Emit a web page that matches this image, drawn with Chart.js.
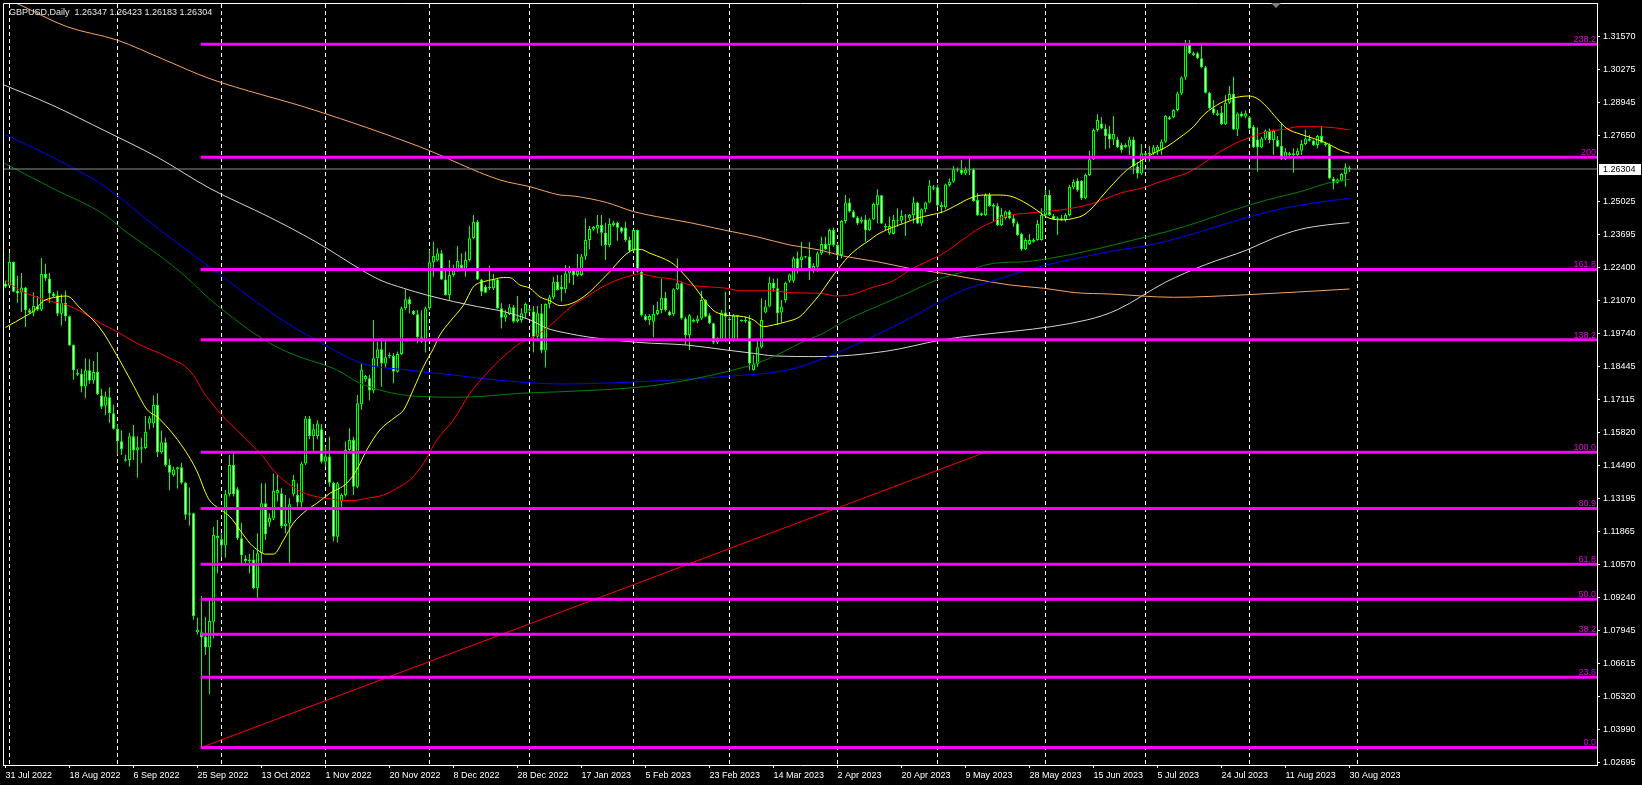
<!DOCTYPE html>
<html>
<head>
<meta charset="utf-8">
<title>GBPUSD,Daily</title>
<script src="https://cdn.jsdelivr.net/npm/chart.js@4.4.1/dist/chart.umd.min.js"></script>
<style>
  html, body { margin: 0; padding: 0; background: #000; overflow: hidden; }
  canvas { display: block; }
</style>
</head>
<body>
<canvas id="chart" width="1642" height="785"></canvas>
<script>
// daily bars, one per trading day (incl. the broker's sunday bars), 31 Jul 2022 .. 30 Aug 2023
const opens = [
  1.2175, 1.2166, 1.2260, 1.2146, 1.2139, 1.2159, 1.2068, 1.2058, 1.2084, 1.2070,
  1.2213, 1.2195, 1.2135, 1.2128, 1.2054, 1.2097, 1.2045, 1.1930, 1.1813, 1.1816,
  1.1765, 1.1830, 1.1789, 1.1823, 1.1729, 1.1688, 1.1722, 1.1659, 1.1597, 1.1547,
  1.1470, 1.1473, 1.1567, 1.1511, 1.1517, 1.1520, 1.1618, 1.1618, 1.1691, 1.1503,
  1.1543, 1.1453, 1.1413, 1.1435, 1.1444, 1.1382, 1.1255, 1.1261, 1.0787, 1.0787,
  1.0770, 1.0727, 1.0829, 1.1161, 1.1157, 1.1132, 1.1336, 1.1453, 1.1356, 1.1161,
  1.1081, 1.1071, 1.1077, 1.0962, 1.1101, 1.1300, 1.1224, 1.1240, 1.1340, 1.1340,
  1.1210, 1.1220, 1.1336, 1.1333, 1.1303, 1.1459, 1.1638, 1.1568, 1.1568, 1.1595,
  1.1466, 1.1486, 1.1382, 1.1167, 1.1307, 1.1333, 1.1512, 1.1552, 1.1366, 1.1694,
  1.1794, 1.1798, 1.1749, 1.1877, 1.1913, 1.1857, 1.1884, 1.1886, 1.1824, 1.1894,
  1.2076, 1.2112, 1.2065, 1.2052, 1.1961, 1.1943, 1.2076, 1.2259, 1.2266, 1.2295,
  1.2191, 1.2129, 1.2209, 1.2231, 1.2249, 1.2233, 1.2268, 1.2355, 1.2421, 1.2191,
  1.2162, 1.2156, 1.2156, 1.2191, 1.2076, 1.2039, 1.2052, 1.2080, 1.2026, 1.2030,
  1.2056, 1.2067, 1.2063, 1.1963, 1.2056, 1.1908, 1.2093, 1.2120, 1.2182, 1.2162,
  1.2152, 1.2215, 1.2226, 1.2209, 1.2209, 1.2282, 1.2348, 1.2390, 1.2394, 1.2408,
  1.2377, 1.2328, 1.2408, 1.2417, 1.2398, 1.2398, 1.2348, 1.2305, 1.2388, 1.2222,
  1.2046, 1.2030, 1.2023, 1.2053, 1.2069, 1.2118, 1.2063, 1.2052, 1.2152, 1.2176,
  1.2036, 1.1970, 1.2030, 1.2026, 1.2036, 1.2109, 1.2049, 1.2017, 1.1940, 1.1950,
  1.2059, 1.2032, 1.1950, 1.2049, 1.2030, 1.2026, 1.2026, 1.1830, 1.1855, 1.1921,
  1.2059, 1.2083, 1.2178, 1.2156, 1.2059, 1.2109, 1.2186, 1.2186, 1.2275, 1.2268,
  1.2279, 1.2282, 1.2228, 1.2242, 1.2295, 1.2332, 1.2328, 1.2388, 1.2328, 1.2288,
  1.2424, 1.2497, 1.2461, 1.2437, 1.2421, 1.2430, 1.2388, 1.2430, 1.2487, 1.2526,
  1.2404, 1.2375, 1.2372, 1.2425, 1.2425, 1.2441, 1.2434, 1.2447, 1.2497, 1.2414,
  1.2470, 1.2497, 1.2558, 1.2558, 1.2478, 1.2478, 1.2567, 1.2580, 1.2629, 1.2627,
  1.2613, 1.2624, 1.2629, 1.2507, 1.2447, 1.2447, 1.2527, 1.2487, 1.2483, 1.2408,
  1.2434, 1.2461, 1.2434, 1.2414, 1.2372, 1.2311, 1.2332, 1.2348, 1.2348, 1.2348,
  1.2447, 1.2527, 1.2443, 1.2434, 1.2428, 1.2428, 1.2447, 1.2558, 1.2584, 1.2584,
  1.2514, 1.2607, 1.2669, 1.2786, 1.2812, 1.2792, 1.2772, 1.2748, 1.2748, 1.2726,
  1.2717, 1.2719, 1.2748, 1.2640, 1.2613, 1.2693, 1.2690, 1.2693, 1.2703, 1.2706,
  1.2739, 1.2828, 1.2836, 1.2865, 1.2931, 1.2995, 1.3130, 1.3091, 1.3091, 1.3071,
  1.3035, 1.2934, 1.2872, 1.2852, 1.2855, 1.2809, 1.2894, 1.2929, 1.2788, 1.2851,
  1.2839, 1.2836, 1.2799, 1.2748, 1.2717, 1.2752, 1.2783, 1.2746, 1.2746, 1.2722,
  1.2669, 1.2693, 1.2686, 1.2686, 1.2703, 1.2730, 1.2752, 1.2743, 1.2726, 1.2762,
  1.2733, 1.2726, 1.2593, 1.2576, 1.2584, 1.2611, 1.26347
];
const highs = [
  1.2186, 1.2296, 1.2262, 1.2206, 1.2217, 1.2161, 1.2076, 1.2139, 1.2125, 1.2276,
  1.2253, 1.2217, 1.2141, 1.2146, 1.2132, 1.2146, 1.2047, 1.1932, 1.1834, 1.1836,
  1.1877, 1.1873, 1.1866, 1.1901, 1.1756, 1.1745, 1.1762, 1.1692, 1.1614, 1.1591,
  1.1493, 1.1581, 1.1612, 1.1567, 1.1561, 1.1648, 1.1648, 1.1729, 1.1738, 1.1590,
  1.1561, 1.1477, 1.1446, 1.1446, 1.1462, 1.1386, 1.1363, 1.1263, 1.0845, 1.0931,
  1.0849, 1.0915, 1.1207, 1.1234, 1.1181, 1.1353, 1.1492, 1.1499, 1.1364, 1.1223,
  1.1094, 1.1098, 1.1114, 1.1181, 1.1380, 1.1380, 1.1260, 1.1419, 1.1413, 1.1360,
  1.1333, 1.1320, 1.1413, 1.1380, 1.1466, 1.1648, 1.1648, 1.1616, 1.1631, 1.1616,
  1.1526, 1.1565, 1.1386, 1.1386, 1.1340, 1.1546, 1.1599, 1.1565, 1.1731, 1.1855,
  1.1811, 1.1811, 1.2030, 1.1943, 1.1957, 1.1948, 1.1900, 1.1897, 1.1904, 1.2083,
  1.2152, 1.2122, 1.2069, 1.2069, 1.2067, 1.2083, 1.2308, 1.2341, 1.2315, 1.2308,
  1.2236, 1.2268, 1.2249, 1.2324, 1.2295, 1.2302, 1.2404, 1.2447, 1.2428, 1.2193,
  1.2169, 1.2245, 1.2213, 1.2193, 1.2096, 1.2069, 1.2093, 1.2089, 1.2125, 1.2076,
  1.2099, 1.2076, 1.2085, 1.2085, 1.2093, 1.2096, 1.2129, 1.2202, 1.2209, 1.2209,
  1.2248, 1.2244, 1.2235, 1.2292, 1.2292, 1.2434, 1.2404, 1.2404, 1.2447, 1.2447,
  1.2417, 1.2434, 1.2425, 1.2421, 1.2401, 1.2421, 1.2361, 1.2390, 1.2390, 1.2229,
  1.2053, 1.2053, 1.2089, 1.2103, 1.2195, 1.2142, 1.2067, 1.2156, 1.2274, 1.2182,
  1.2043, 1.2053, 1.2036, 1.2049, 1.2146, 1.2112, 1.2056, 1.2019, 1.1961, 1.2069,
  1.2142, 1.2043, 1.2053, 1.2051, 1.2032, 1.2043, 1.2049, 1.1890, 1.1950, 1.2116,
  1.2109, 1.2202, 1.2195, 1.2195, 1.2109, 1.2182, 1.2215, 1.2282, 1.2302, 1.2341,
  1.2284, 1.2341, 1.2255, 1.2302, 1.2361, 1.2361, 1.2394, 1.2398, 1.2335, 1.2428,
  1.2527, 1.2514, 1.2467, 1.2443, 1.2441, 1.2447, 1.2434, 1.2497, 1.2550, 1.2527,
  1.2414, 1.2441, 1.2447, 1.2474, 1.2467, 1.2451, 1.2451, 1.2520, 1.2500, 1.2474,
  1.2500, 1.2587, 1.2567, 1.2569, 1.2500, 1.2573, 1.2594, 1.2642, 1.2636, 1.2666,
  1.2637, 1.2682, 1.2633, 1.2534, 1.2457, 1.2534, 1.2536, 1.2494, 1.2494, 1.2474,
  1.2465, 1.2467, 1.2447, 1.2421, 1.2377, 1.2355, 1.2372, 1.2355, 1.2428, 1.2474,
  1.2547, 1.2547, 1.2451, 1.2441, 1.2447, 1.2454, 1.2567, 1.2589, 1.2594, 1.2587,
  1.2613, 1.2703, 1.2792, 1.2849, 1.2836, 1.2809, 1.2802, 1.2841, 1.2759, 1.2735,
  1.2733, 1.2759, 1.2759, 1.2656, 1.2730, 1.2695, 1.2722, 1.2726, 1.2726, 1.2748,
  1.2845, 1.2841, 1.2868, 1.2938, 1.3000, 1.3144, 1.3144, 1.3097, 1.3097, 1.3128,
  1.3040, 1.2938, 1.2905, 1.2865, 1.2881, 1.2925, 1.2961, 1.2998, 1.2855, 1.2859,
  1.2863, 1.2841, 1.2806, 1.2796, 1.2759, 1.2788, 1.2792, 1.2788, 1.2762, 1.2815,
  1.2713, 1.2699, 1.2713, 1.2713, 1.2746, 1.2788, 1.2766, 1.2748, 1.2766, 1.2802,
  1.2739, 1.2733, 1.2600, 1.2593, 1.2616, 1.2653, 1.26423
];
const lows = [
  1.2156, 1.2164, 1.2140, 1.2098, 1.2061, 1.2002, 1.2054, 1.2045, 1.2065, 1.2065,
  1.2186, 1.2098, 1.2121, 1.2045, 1.2007, 1.2025, 1.1926, 1.1792, 1.1807, 1.1742,
  1.1718, 1.1776, 1.1776, 1.1731, 1.1675, 1.1651, 1.1621, 1.1594, 1.1493, 1.1493,
  1.1466, 1.1446, 1.1473, 1.1402, 1.1460, 1.1516, 1.1594, 1.1601, 1.1484, 1.1497,
  1.1446, 1.1352, 1.1406, 1.1359, 1.1376, 1.1235, 1.1211, 1.0837, 1.0778, 1.0330,
  1.0697, 1.0540, 1.0763, 1.1022, 1.1088, 1.1084, 1.1327, 1.1327, 1.1154, 1.1057,
  1.1061, 1.1022, 1.0958, 1.0922, 1.1061, 1.1154, 1.1207, 1.1234, 1.1307, 1.1201,
  1.1181, 1.1061, 1.1327, 1.1287, 1.1274, 1.1453, 1.1555, 1.1499, 1.1555, 1.1459,
  1.1446, 1.1366, 1.1148, 1.1144, 1.1287, 1.1327, 1.1499, 1.1333, 1.1360, 1.1672,
  1.1784, 1.1709, 1.1738, 1.1844, 1.1764, 1.1841, 1.1877, 1.1778, 1.1820, 1.1890,
  1.2069, 1.2056, 1.2050, 1.1937, 1.1939, 1.1900, 1.2069, 1.2202, 1.2262, 1.2189,
  1.2127, 1.2107, 1.2202, 1.2222, 1.2229, 1.2202, 1.2262, 1.2351, 1.2189, 1.2125,
  1.2136, 1.2149, 1.2149, 1.2072, 1.1996, 1.2023, 1.2050, 1.2019, 1.2019, 1.2019,
  1.2036, 1.2063, 1.1900, 1.1953, 1.1897, 1.1841, 1.2076, 1.2112, 1.2147, 1.2103,
  1.2136, 1.2176, 1.2169, 1.2202, 1.2205, 1.2268, 1.2311, 1.2385, 1.2374, 1.2324,
  1.2268, 1.2319, 1.2401, 1.2345, 1.2374, 1.2341, 1.2298, 1.2302, 1.2218, 1.2043,
  1.2027, 1.2010, 1.1961, 1.2049, 1.2056, 1.2063, 1.2046, 1.2046, 1.2149, 1.2032,
  1.1930, 1.1910, 1.2020, 1.2017, 1.2030, 1.2040, 1.2013, 1.1934, 1.1934, 1.1943,
  1.1943, 1.1950, 1.1943, 1.1950, 1.2023, 1.2019, 1.1830, 1.1828, 1.1844, 1.1917,
  1.2056, 1.2080, 1.2142, 1.2010, 1.2019, 1.2098, 1.2178, 1.2178, 1.2215, 1.2229,
  1.2275, 1.2189, 1.2218, 1.2222, 1.2288, 1.2308, 1.2288, 1.2321, 1.2282, 1.2275,
  1.2414, 1.2457, 1.2434, 1.2408, 1.2414, 1.2341, 1.2385, 1.2428, 1.2414, 1.2412,
  1.2388, 1.2368, 1.2370, 1.2401, 1.2414, 1.2364, 1.2428, 1.2414, 1.2412, 1.2404,
  1.2457, 1.2494, 1.2547, 1.2480, 1.2454, 1.2470, 1.2560, 1.2576, 1.2620, 1.2607,
  1.2607, 1.2607, 1.2500, 1.2443, 1.2443, 1.2443, 1.2480, 1.2421, 1.2404, 1.2404,
  1.2430, 1.2430, 1.2401, 1.2364, 1.2305, 1.2308, 1.2328, 1.2337, 1.2345, 1.2345,
  1.2441, 1.2443, 1.2428, 1.2368, 1.2425, 1.2421, 1.2441, 1.2550, 1.2540, 1.2507,
  1.2510, 1.2603, 1.2666, 1.2779, 1.2788, 1.2709, 1.2713, 1.2726, 1.2713, 1.2695,
  1.2713, 1.2686, 1.2611, 1.2593, 1.2607, 1.2682, 1.2660, 1.2686, 1.2686, 1.2686,
  1.2735, 1.2825, 1.2832, 1.2859, 1.2925, 1.2985, 1.3088, 1.3080, 1.3067, 1.3031,
  1.2931, 1.2868, 1.2845, 1.2841, 1.2806, 1.2806, 1.2889, 1.2786, 1.2762, 1.2836,
  1.2832, 1.2788, 1.2713, 1.2620, 1.2713, 1.2746, 1.2733, 1.2686, 1.2717, 1.2666,
  1.2666, 1.2682, 1.2616, 1.2680, 1.2686, 1.2726, 1.2739, 1.2722, 1.2713, 1.2733,
  1.2719, 1.2589, 1.2550, 1.2573, 1.2580, 1.2560, 1.26183
];
const closes = [
  1.2162, 1.2260, 1.2142, 1.2135, 1.2159, 1.2069, 1.2058, 1.2085, 1.2070, 1.2213,
  1.2195, 1.2135, 1.2125, 1.2054, 1.2097, 1.2045, 1.1928, 1.1830, 1.1819, 1.1765,
  1.1830, 1.1789, 1.1823, 1.1735, 1.1684, 1.1725, 1.1659, 1.1597, 1.1547, 1.1516,
  1.1476, 1.1567, 1.1511, 1.1523, 1.1523, 1.1585, 1.1639, 1.1691, 1.1503, 1.1543,
  1.1453, 1.1422, 1.1435, 1.1444, 1.1382, 1.1255, 1.1261, 1.0852, 1.0797, 1.0767,
  1.0727, 1.0832, 1.1174, 1.1170, 1.1132, 1.1336, 1.1453, 1.1337, 1.1161, 1.1094,
  1.1071, 1.1077, 1.0962, 1.1101, 1.1300, 1.1177, 1.1243, 1.1350, 1.1353, 1.1210,
  1.1220, 1.1296, 1.1393, 1.1303, 1.1459, 1.1638, 1.1568, 1.1595, 1.1618, 1.1466,
  1.1486, 1.1382, 1.1167, 1.1380, 1.1333, 1.1512, 1.1552, 1.1366, 1.1698, 1.1833,
  1.1807, 1.1749, 1.1877, 1.1913, 1.1857, 1.1881, 1.1890, 1.1824, 1.1894, 1.2076,
  1.2112, 1.2092, 1.2052, 1.1961, 1.1943, 1.2076, 1.2259, 1.2284, 1.2295, 1.2191,
  1.2129, 1.2209, 1.2231, 1.2264, 1.2236, 1.2268, 1.2355, 1.2421, 1.2191, 1.2142,
  1.2138, 1.2162, 1.2191, 1.2076, 1.2039, 1.2052, 1.2080, 1.2023, 1.2036, 1.2056,
  1.2093, 1.2072, 1.1963, 1.2056, 1.1908, 1.2093, 1.2120, 1.2182, 1.2149, 1.2152,
  1.2215, 1.2235, 1.2209, 1.2226, 1.2282, 1.2348, 1.2392, 1.2401, 1.2408, 1.2377,
  1.2328, 1.2412, 1.2417, 1.2397, 1.2381, 1.2348, 1.2305, 1.2388, 1.2222, 1.2049,
  1.2030, 1.2046, 1.2053, 1.2069, 1.2118, 1.2069, 1.2049, 1.2152, 1.2176, 1.2036,
  1.1970, 1.2049, 1.2023, 1.2036, 1.2109, 1.2043, 1.2017, 1.1940, 1.1957, 1.2059,
  1.2043, 1.2030, 1.2049, 1.2043, 1.2026, 1.2030, 1.1857, 1.1855, 1.1921, 1.2030,
  1.2083, 1.2178, 1.2156, 1.2056, 1.2083, 1.2178, 1.2211, 1.2275, 1.2225, 1.2282,
  1.2282, 1.2226, 1.2244, 1.2295, 1.2332, 1.2311, 1.2388, 1.2328, 1.2288, 1.2424,
  1.2497, 1.2461, 1.2437, 1.2414, 1.2430, 1.2388, 1.2430, 1.2491, 1.2526, 1.2414,
  1.2398, 1.2404, 1.2428, 1.2428, 1.2443, 1.2443, 1.2447, 1.2497, 1.2414, 1.2470,
  1.2497, 1.2565, 1.2552, 1.2485, 1.2487, 1.2569, 1.2580, 1.2629, 1.2624, 1.2613,
  1.2627, 1.2629, 1.2503, 1.2447, 1.2454, 1.2527, 1.2483, 1.2480, 1.2408, 1.2447,
  1.2461, 1.2434, 1.2414, 1.2368, 1.2311, 1.2348, 1.2348, 1.2341, 1.2412, 1.2447,
  1.2527, 1.2447, 1.2430, 1.2430, 1.2434, 1.2447, 1.2560, 1.2580, 1.2547, 1.2514,
  1.2607, 1.2669, 1.2786, 1.2825, 1.2792, 1.2762, 1.2748, 1.2770, 1.2717, 1.2706,
  1.2726, 1.2748, 1.2640, 1.2613, 1.2693, 1.2686, 1.2695, 1.2717, 1.2719, 1.2739,
  1.2841, 1.2836, 1.2865, 1.2931, 1.2995, 1.3128, 1.3091, 1.3084, 1.3071, 1.3035,
  1.2934, 1.2872, 1.2852, 1.2845, 1.2809, 1.2894, 1.2929, 1.2788, 1.2851, 1.2839,
  1.2852, 1.2792, 1.2717, 1.2717, 1.2752, 1.2783, 1.2746, 1.2783, 1.2719, 1.2669,
  1.2699, 1.2686, 1.2693, 1.2703, 1.2730, 1.2752, 1.2743, 1.2726, 1.2762, 1.2735,
  1.2726, 1.2593, 1.2576, 1.2589, 1.2611, 1.2637, 1.26304
];

// moving averages as [bar, price]
const maYellow = [
  [0, 1.2000], [5, 1.2045], [7, 1.2065], [9.5, 1.2105], [12, 1.2119], [15.3, 1.2125], [18.6, 1.2078],
  [23.6, 1.1998], [27.8, 1.1890], [32, 1.1769], [35.3, 1.1675], [38.5, 1.1636], [44.5, 1.1520],
  [47.8, 1.1430], [50.7, 1.1320], [54, 1.1273], [56.1, 1.1247], [58.6, 1.1194], [61.1, 1.1141],
  [63.6, 1.1108], [65, 1.1098], [67, 1.1098], [69.5, 1.1154], [71.9, 1.1220], [75.3, 1.1273],
  [77.8, 1.1300], [81.1, 1.1340], [85.3, 1.1380], [87.8, 1.1433], [90.3, 1.1512], [93.6, 1.1592],
  [97.6, 1.1645], [99.5, 1.1671], [102.1, 1.1758], [104.5, 1.1844], [107, 1.1917], [108.6, 1.1970],
  [111.1, 1.2023], [114.5, 1.2089], [117, 1.2162], [119.5, 1.2182], [122, 1.2191], [124.5, 1.2199],
  [126.1, 1.2198], [128.6, 1.2169], [131.1, 1.2156], [133.6, 1.2122], [136.1, 1.2106], [138.6, 1.2087],
  [141.1, 1.2093], [143.6, 1.2112], [146.1, 1.2142], [148.6, 1.2182], [151.1, 1.2222], [153.6, 1.2268],
  [155.7, 1.2298], [157.5, 1.2311], [159, 1.2310], [161.1, 1.2295], [164.4, 1.2275], [166.9, 1.2253],
  [169.4, 1.2215], [171.9, 1.2169], [176.9, 1.2069], [179.5, 1.2050], [182, 1.2046], [184.5, 1.2043],
  [187, 1.2030], [189.5, 1.2003], [192, 1.2010], [195.3, 1.2023], [198.6, 1.2043], [201.1, 1.2085],
  [203.6, 1.2132], [206.1, 1.2189], [208.6, 1.2242], [211.1, 1.2288], [213.6, 1.2321], [216.1, 1.2348],
  [217.8, 1.2368], [221.1, 1.2394], [224.5, 1.2414], [227.8, 1.2434], [231.1, 1.2447], [234.5, 1.2461],
  [237.8, 1.2487], [241.1, 1.2514], [244.5, 1.2527], [247.8, 1.2527], [251.1, 1.2523], [254.5, 1.2500],
  [257.8, 1.2467], [259.5, 1.2447], [261.1, 1.2434], [264.5, 1.2428], [267, 1.2434], [269.5, 1.2447],
  [272, 1.2481], [273.6, 1.2512], [277, 1.2573], [280.3, 1.2626], [283.6, 1.2660], [287, 1.2693],
  [290.3, 1.2719], [293.6, 1.2756], [297, 1.2799], [299.5, 1.2845], [302, 1.2876], [305.3, 1.2905],
  [308.6, 1.2918], [310.7, 1.2921], [312.8, 1.2912], [315.3, 1.2878], [317.8, 1.2832], [320.3, 1.2792],
  [323.6, 1.2770], [327, 1.2752], [330.3, 1.2733], [333.6, 1.2706], [336, 1.2693]
];
const maRed = [
  [0, 1.2189], [3.6, 1.2148], [7, 1.2125], [11.1, 1.2105], [15.3, 1.2089], [19.5, 1.2058], [23.6, 1.2018],
  [27.8, 1.1984], [30.3, 1.1960], [34.5, 1.1924], [38.6, 1.1897], [42, 1.1870], [44.5, 1.1850],
  [47, 1.1809], [49.5, 1.1742], [51.1, 1.1708], [54, 1.1652], [57.8, 1.1592], [61.1, 1.1539],
  [64.4, 1.1486], [66.9, 1.1433], [69.5, 1.1393], [72.8, 1.1356], [76.1, 1.1333], [80.3, 1.1320],
  [83.6, 1.1313], [86.9, 1.1311], [90.3, 1.1320], [94.5, 1.1333], [97.8, 1.1360], [101.1, 1.1393],
  [104.5, 1.1459], [107.8, 1.1552], [112, 1.1632], [116.1, 1.1738], [120.3, 1.1817], [124.5, 1.1884],
  [128.6, 1.1937], [132, 1.1963], [135.3, 1.1997], [138.6, 1.2043], [141.9, 1.2089], [145.3, 1.2122],
  [148.6, 1.2156], [151.9, 1.2182], [155.3, 1.2202], [158.6, 1.2213], [160.3, 1.2209], [162.8, 1.2200],
  [166.9, 1.2192], [171.1, 1.2169], [175.3, 1.2162], [180.3, 1.2156], [183.6, 1.2146], [192, 1.2146],
  [196.1, 1.2138], [203.6, 1.2136], [207.8, 1.2125], [212, 1.2133], [216.1, 1.2156], [222, 1.2186],
  [226.1, 1.2229], [230.3, 1.2262], [234.5, 1.2295], [238.6, 1.2341], [242.8, 1.2388], [246.9, 1.2421],
  [251.1, 1.2447], [255.3, 1.2454], [259.5, 1.2461], [263.6, 1.2467], [267.8, 1.2478], [272, 1.2494],
  [275, 1.2512], [278.6, 1.2534], [282, 1.2547], [285.3, 1.2560], [288.6, 1.2580], [292.8, 1.2600],
  [296.1, 1.2620], [299.5, 1.2653], [303.6, 1.2699], [307.8, 1.2735], [311.1, 1.2756], [315.3, 1.2779],
  [319.5, 1.2788], [323.6, 1.2799], [327, 1.2799], [332, 1.2795], [336, 1.2786]
];
const maGreen = [
  [-1, 1.2659], [11.6, 1.2555], [24.9, 1.2447], [29.5, 1.2388], [37.8, 1.2294], [45.3, 1.2199],
  [51.1, 1.2112], [66.1, 1.1937], [74.5, 1.1877], [78.6, 1.1857], [82.8, 1.1831], [88.6, 1.1778],
  [93.6, 1.1751], [99.5, 1.1731], [106.1, 1.1724], [112, 1.1722], [120.3, 1.1727], [128.6, 1.1738],
  [138.6, 1.1744], [160, 1.1765], [172, 1.1795], [182, 1.1831], [187.8, 1.1857], [192, 1.1884],
  [197, 1.1924], [200.3, 1.1950], [203.6, 1.1970], [210.3, 1.2030], [217.8, 1.2083], [224.5, 1.2129],
  [232.8, 1.2189], [240.3, 1.2225], [247, 1.2255], [255.3, 1.2262], [261.1, 1.2275], [267.8, 1.2295],
  [273.6, 1.2315], [282, 1.2348], [290.3, 1.2381], [298.6, 1.2421], [307, 1.2467], [315.3, 1.2507],
  [323.6, 1.2540], [332, 1.2580], [336, 1.2589]
];
const maBlue = [
  [-1, 1.2774], [11.6, 1.2678], [24.9, 1.2560], [38.6, 1.2388], [51.1, 1.2240], [66.1, 1.2063],
  [74.5, 1.1977], [78.6, 1.1943], [82.8, 1.1904], [88.6, 1.1860], [93.6, 1.1841], [99.5, 1.1833],
  [106.1, 1.1820], [112, 1.1811], [118.6, 1.1798], [124.5, 1.1788], [131.1, 1.1780], [138.6, 1.1775],
  [160, 1.1785], [180, 1.1805], [195.3, 1.1830], [203.6, 1.1871], [225.3, 1.2030], [232.8, 1.2096],
  [239.5, 1.2149], [246.1, 1.2182], [252.8, 1.2215], [259.5, 1.2246], [267.8, 1.2275], [276.1, 1.2302],
  [286.1, 1.2328], [294.5, 1.2361], [302.8, 1.2401], [311.1, 1.2441], [319.5, 1.2474], [327.8, 1.2497],
  [336, 1.2514]
];
const maSilver = [
  [-1, 1.2969], [11.6, 1.2885], [24.9, 1.2782], [37.9, 1.2678], [50.9, 1.2555], [66.1, 1.2438],
  [74.5, 1.2368], [80.3, 1.2315], [86.9, 1.2249], [93.6, 1.2189], [99.5, 1.2156], [105.3, 1.2129],
  [112, 1.2103], [118, 1.2083], [124.5, 1.2063], [131.1, 1.2030], [135.3, 1.1997], [140.4, 1.1977],
  [146.1, 1.1961], [158.6, 1.1940], [170.3, 1.1930], [180.3, 1.1910], [187, 1.1897], [192, 1.1887],
  [203.6, 1.1884], [220, 1.1905], [234, 1.1950], [270.4, 1.2030], [277.9, 1.2070], [290, 1.2180],
  [300, 1.2250], [310.3, 1.2308], [317, 1.2355], [323.6, 1.2390], [330.3, 1.2408], [336, 1.2417]
];
const maOrange = [
  [-1, 1.3315], [2.6, 1.3291], [15.3, 1.3197], [27.8, 1.3144], [39.9, 1.3064], [50.9, 1.2991],
  [77.2, 1.2865], [103.4, 1.2720], [123.6, 1.2587], [131.1, 1.2560], [138.6, 1.2527], [142, 1.2523],
  [150.3, 1.2497], [157, 1.2461], [162.8, 1.2441], [171.1, 1.2417], [179.5, 1.2388], [187.8, 1.2361],
  [196.1, 1.2328], [203.6, 1.2308], [209.5, 1.2284], [217.8, 1.2262], [226.1, 1.2235], [234.5, 1.2215],
  [242.8, 1.2191], [251.1, 1.2169], [259.5, 1.2156], [267.8, 1.2138], [276.1, 1.2133], [292, 1.2120],
  [310, 1.2130], [336, 1.2153]
];

// fibonacci retracement drawn from the Sep 2022 low
const fibLevels = ['238.2', '200', '161.8', '138.2', '100.0', '80.9', '61.8', '50.0', '38.2', '23.6', '0.0'];
const fibPrices = [1.3127, 1.2677, 1.2231, 1.1951, 1.1503, 1.1280, 1.1058, 1.0918, 1.0779, 1.0608, 1.0329];
const fibStartBar = 48.8;
const trendLine = [[49, 1.0329], [244.9, 1.1503]];

const labelBars = [0, 16, 32, 48, 64, 80, 96, 112, 128, 144, 160, 176, 192, 208, 224, 240, 256, 272, 288, 304, 320, 336];
const dateLabels = ['31 Jul 2022', '18 Aug 2022', '6 Sep 2022', '25 Sep 2022', '13 Oct 2022', '1 Nov 2022',
  '20 Nov 2022', '8 Dec 2022', '28 Dec 2022', '17 Jan 2023', '5 Feb 2023', '23 Feb 2023', '14 Mar 2023',
  '2 Apr 2023', '20 Apr 2023', '9 May 2023', '28 May 2023', '15 Jun 2023', '5 Jul 2023', '24 Jul 2023',
  '11 Aug 2023', '30 Aug 2023'];
const priceTicks = [1.31570, 1.30275, 1.28945, 1.27650, 1.25025, 1.23695, 1.22400, 1.21070, 1.19740, 1.18445,
  1.17115, 1.15820, 1.14490, 1.13195, 1.11865, 1.10570, 1.09240, 1.07945, 1.06615, 1.05320, 1.03990, 1.02695];
const monthStartBars = [1, 28, 54, 80, 106, 131, 157, 181, 208, 233, 260, 285, 311, 338];
const lastQuote = { open: 1.26347, high: 1.26423, low: 1.26183, close: 1.26304 };

const X_MIN = -0.625, X_MAX = 397.875;
const Y_MIN = 1.02589, Y_MAX = 1.32910;
const FONT = '"Liberation Sans", Arial, sans-serif';

Chart.defaults.font.family = FONT;
Chart.defaults.font.size = 9;
Chart.defaults.color = '#ffffff';

const barIdx = opens.map((_, i) => i);
const wickData = barIdx.map(i => ({ x: i, y: [lows[i], highs[i]] }));
const bodyData = barIdx.map(i => ({ x: i, y: [opens[i], closes[i]] }));
const bodyFill = barIdx.map(i => closes[i] < opens[i] ? '#ffffff' : '#000000');

const toXY = arr => arr.map(p => ({ x: p[0], y: p[1] }));

function maLine(points, color, order) {
  return {
    type: 'line', data: toXY(points), borderColor: color, borderWidth: 1,
    pointRadius: 0, cubicInterpolationMode: 'monotone', order: order, clip: 0
  };
}

const fibSets = fibPrices.map(p => ({
  type: 'line',
  data: [{ x: fibStartBar, y: p }, { x: X_MAX, y: p }],
  borderColor: '#ff00ff', borderWidth: 3, pointRadius: 0, order: 1, clip: 0
}));

const decor = {
  id: 'decor',
  beforeDatasetsDraw(chart) {
    const { ctx, chartArea: a, scales: { x } } = chart;
    ctx.save();
    ctx.strokeStyle = '#ffffff';
    ctx.lineWidth = 1;
    ctx.setLineDash([4, 3]);
    monthStartBars.forEach(b => {
      const px = Math.floor(x.getPixelForValue(b)) + 0.5;
      if (px > a.right) return;
      ctx.beginPath();
      ctx.moveTo(px, a.top + 1);
      ctx.lineTo(px, a.bottom);
      ctx.stroke();
    });
    ctx.restore();
  },
  afterDatasetsDraw(chart) {
    const { ctx, chartArea: a, scales: { y } } = chart;
    ctx.save();
    ctx.font = '9px ' + FONT;
    ctx.fillStyle = '#e000e0';
    ctx.textAlign = 'right';
    ctx.textBaseline = 'alphabetic';
    fibLevels.forEach((lbl, i) => {
      const py = y.getPixelForValue(fibPrices[i]);
      ctx.fillText(lbl, a.right - 1, py - 2);
    });
    ctx.restore();
  },
  afterDraw(chart) {
    const { ctx, chartArea: a, scales: { y } } = chart;
    ctx.save();
    // frame
    ctx.strokeStyle = '#ffffff';
    ctx.lineWidth = 1;
    ctx.beginPath();
    ctx.moveTo(a.left + 0.5, a.bottom);
    ctx.lineTo(a.left + 0.5, a.top + 0.5);
    ctx.lineTo(a.right, a.top + 0.5);
    ctx.stroke();

    // symbol / OHLC caption
    ctx.font = '9px ' + FONT;
    ctx.fillStyle = '#e8e8e8';
    ctx.textAlign = 'left';
    ctx.textBaseline = 'alphabetic';
    ctx.fillText('GBPUSD,Daily  ' + [lastQuote.open, lastQuote.high, lastQuote.low, lastQuote.close]
      .map(v => v.toFixed(5)).join(' '), 9, 15);

    // last price tag on the axis
    const py = Math.round(y.getPixelForValue(lastQuote.close));
    ctx.fillStyle = '#ffffff';
    ctx.fillRect(a.right + 2, py - 5, 42, 11);
    ctx.fillStyle = '#000000';
    ctx.textBaseline = 'middle';
    ctx.fillText(lastQuote.close.toFixed(5), a.right + 6, py + 0.5);

    // chart shift marker
    ctx.fillStyle = '#808080';
    ctx.beginPath();
    ctx.moveTo(1271, 3);
    ctx.lineTo(1281, 3);
    ctx.lineTo(1276, 8);
    ctx.closePath();
    ctx.fill();
    ctx.restore();
  }
};

new Chart(document.getElementById('chart'), {
  type: 'bar',
  data: {
    datasets: [
      {
        label: 'wicks', data: wickData, backgroundColor: '#00ff00', borderWidth: 0,
        barThickness: 1, minBarLength: 1, grouped: false, inflateAmount: 0, order: 20, clip: 0
      },
      {
        label: 'bodies', data: bodyData, backgroundColor: bodyFill, borderColor: '#00ff00',
        borderWidth: 1, borderSkipped: false, barThickness: 3, minBarLength: 1,
        grouped: false, inflateAmount: 0, order: 19, clip: 0
      },
      maLine(maOrange, '#f4a460', 15),
      maLine(maSilver, '#d3d3d3', 14),
      maLine(maBlue, '#0000ff', 13),
      maLine(maGreen, '#008000', 12),
      maLine(maRed, '#ff0000', 11),
      maLine(maYellow, '#ffff00', 10),
      {
        type: 'line', data: [{ x: X_MIN, y: lastQuote.close }, { x: X_MAX, y: lastQuote.close }],
        borderColor: '#8c8c8c', borderWidth: 1, pointRadius: 0, order: 8, clip: 0
      },
      {
        type: 'line', data: toXY(trendLine), borderColor: '#ff0000', borderWidth: 1,
        pointRadius: 0, order: 3, clip: 0
      },
      ...fibSets
    ]
  },
  options: {
    responsive: false,
    animation: false,
    devicePixelRatio: 1,
    layout: { autoPadding: false, padding: { left: 3, top: 3, right: 0, bottom: 0 } },
    plugins: { legend: { display: false }, tooltip: { enabled: false } },
    scales: {
      x: {
        type: 'linear', min: X_MIN, max: X_MAX, offset: false, bounds: 'data',
        grid: { display: true, drawOnChartArea: false, drawTicks: true, tickLength: 3, color: '#ffffff', offset: false },
        border: { display: true, color: '#ffffff' },
        ticks: {
          autoSkip: false, maxRotation: 0, minRotation: 0, align: 'start', padding: 2,
          color: '#ffffff', font: { size: 9, family: FONT },
          callback: (v, i) => dateLabels[i]
        },
        afterBuildTicks: s => { s.ticks = labelBars.map(b => ({ value: b })); },
        afterFit: s => { s.height = 20; s.paddingLeft = 0; s.paddingRight = 0; }
      },
      y: {
        type: 'linear', position: 'right', min: Y_MIN, max: Y_MAX, bounds: 'data', beginAtZero: false,
        grid: { display: true, drawOnChartArea: false, drawTicks: true, tickLength: 3, color: '#ffffff' },
        border: { display: true, color: '#ffffff' },
        ticks: {
          autoSkip: false, padding: 3, color: '#ffffff', font: { size: 9, family: FONT },
          callback: v => Number(v).toFixed(5)
        },
        afterBuildTicks: s => { s.ticks = priceTicks.map(v => ({ value: v })); },
        afterFit: s => { s.width = 45; s.paddingTop = 0; s.paddingBottom = 0; }
      }
    }
  },
  plugins: [decor]
});
</script>
</body>
</html>
